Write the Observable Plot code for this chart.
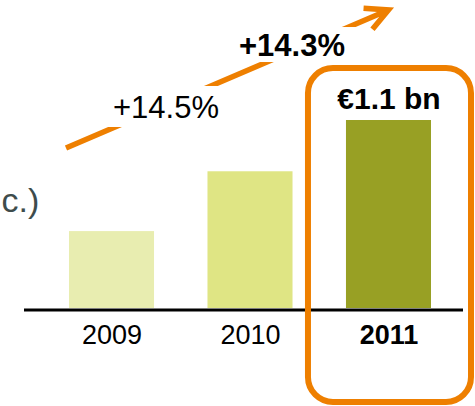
<!DOCTYPE html>
<html><head><meta charset="utf-8">
<script src="https://cdn.jsdelivr.net/npm/d3@7"></script>
<script src="https://cdn.jsdelivr.net/npm/@observablehq/plot@0.6"></script>
<style>
  html,body{margin:0;padding:0;background:#fff;}
  #chart svg{display:block;}
</style>
</head><body><div id="chart"></div>
<script>
// ---- data ----
const years = ["2009", "2010", "2011"];
const values = [0.45, 0.80, 1.10];          // bar heights (€ bn, 2011 labelled €1.1 bn)
const barColors = ["#E8EDB0", "#DFE584", "#98A024"];
const growthLabels = ["+14.5%", "+14.3%"]; // growth 2009→2010, 2010→2011
const totalLabel = "€1.1 bn";
const highlightYear = "2011";
const sideNote = "c.)";

// ---- styles ----
const ORANGE = "#EE7F00";
const FONT = "'Liberation Sans', Arial, Helvetica, sans-serif";
const growthStyle = [
  {dx: -84.5, dy: -63.2, weight: "normal", size: 31, box: [-62, 68, -32, 9]},
  {dx: -97, dy: -74.9, weight: "bold", size: 31, box: [-64, 70, -28, 7]}
];

const data = years.map((year, i) => ({year, value: values[i]}));
const growth = growthLabels.map((label, i) => ({label, year: years[i + 1], value: values[i + 1], i}));

function trendArrow(index, scales) {
  const x = scales.x, y = scales.y;
  const bw = typeof x.bandwidth === "function" ? x.bandwidth() : 0;
  const x0 = x(years[0]) - 3, y0 = y(values[0]) - 83;
  const x1 = x(years[2]) + bw / 2, y1 = y(values[2]) - 110;
  const back = Math.atan2(y0 - y1, x0 - x1);
  const a = 27 * Math.PI / 180, L = 25;
  const g = d3.create("svg:g");
  const p = d3.path();
  p.moveTo(x0, y0); p.lineTo(x1, y1);
  p.moveTo(x1 + L * Math.cos(back + a), y1 + L * Math.sin(back + a));
  p.lineTo(x1, y1);
  p.lineTo(x1 + L * Math.cos(back - a), y1 + L * Math.sin(back - a));
  g.append("path").attr("d", p.toString())
    .attr("fill", "none").attr("stroke", ORANGE).attr("stroke-width", 5.5)
    .attr("stroke-linejoin", "miter").attr("stroke-linecap", "butt");
  // white label boxes that interrupt the arrow
  growth.forEach((d, i) => {
    const s = growthStyle[i];
    const cx = x(d.year) + bw / 2 + s.dx;
    const base = y(d.value) + s.dy + 0.32 * s.size;
    g.append("rect")
      .attr("x", cx + s.box[0]).attr("width", s.box[1] - s.box[0])
      .attr("y", base + s.box[2]).attr("height", s.box[3] - s.box[2])
      .attr("fill", "white");
  });
  return g.node();
}

const chart = Plot.plot({
  width: 475,
  height: 406,
  marginLeft: 24,
  marginRight: 12,
  marginTop: 68,
  marginBottom: 4,
  style: {fontFamily: FONT, background: "white", overflow: "hidden"},
  x: {type: "band", domain: years, range: [69, 431], paddingInner: 0.386, paddingOuter: 0, round: false, axis: null},
  y: {domain: [0, 1.1], range: [308, 120], axis: null},
  color: {domain: years, range: barColors},
  marks: [
    Plot.barY(data, {x: "year", y: "value", fill: "year"}),
    Plot.ruleY([0], {stroke: "black", strokeWidth: 3, dy: 1.5}),
    Plot.cell([highlightYear], {x: d => d, fill: "none", stroke: ORANGE, strokeWidth: 6, rx: 25, insetLeft: -38, insetRight: -40}),
    trendArrow,
    Plot.text(growth.filter(d => d.i === 0), {x: "year", y: "value", text: "label", dx: growthStyle[0].dx, dy: growthStyle[0].dy, fontSize: growthStyle[0].size, fontWeight: growthStyle[0].weight, fill: "black"}),
    Plot.text(growth.filter(d => d.i === 1), {x: "year", y: "value", text: "label", dx: growthStyle[1].dx, dy: growthStyle[1].dy, fontSize: growthStyle[1].size, fontWeight: growthStyle[1].weight, fill: "black"}),
    Plot.text(data.filter(d => d.year === highlightYear), {x: "year", y: "value", text: () => totalLabel, dy: -21.6, fontSize: 30, fontWeight: "bold", fill: "black"}),
    Plot.text(data.filter(d => d.year !== highlightYear), {x: "year", y: () => 0, text: "year", dy: 26.4, fontSize: 27, fill: "black"}),
    Plot.text(data.filter(d => d.year === highlightYear), {x: "year", y: () => 0, text: "year", dy: 26.4, fontSize: 27, fontWeight: "bold", fill: "black"}),
    Plot.text([sideNote], {frameAnchor: "top-left", text: d => d, textAnchor: "start", dx: -23, dy: 119, fontSize: 34, fill: "#3E4C4C"})
  ]
});
document.getElementById("chart").appendChild(chart);
</script>
</body></html>
